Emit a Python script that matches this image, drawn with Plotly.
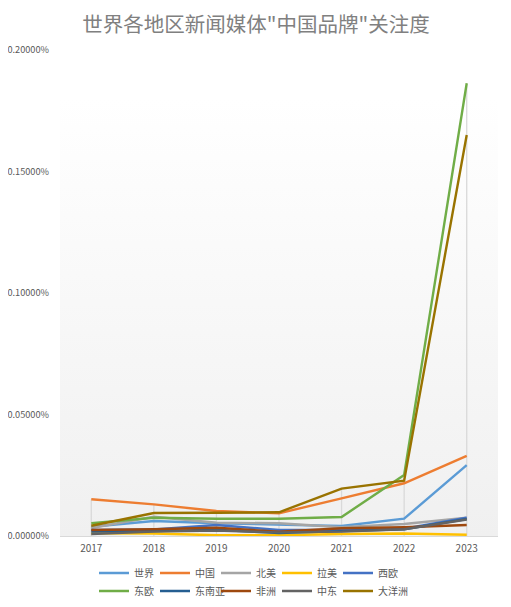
import base64
import plotly.graph_objects as go

years = ["2017", "2018", "2019", "2020", "2021", "2022", "2023"]

world = [0.0000383, 0.0000617, 0.0000523, 0.0000481, 0.0000412, 0.0000712, 0.000292]
china = [0.000151, 0.000130, 0.000103, 0.0000934, 0.000155, 0.000217, 0.000330]
north_america = [0.000033, 0.0000794, 0.0000547, 0.0000523, 0.0000358, 0.0000494, 0.0000753]
latin_america = [0.000011, 0.000010, 0.000003, 0.000003, 0.000008, 0.000010, 0.000005]
west_europe = [0.0000247, 0.000027, 0.000045, 0.0000247, 0.000025, 0.000030, 0.0000753]
east_europe = [0.0000523, 0.0000753, 0.0000712, 0.0000712, 0.0000782, 0.000251, 0.001863]
southeast_asia = [0.000018, 0.000020, 0.000026, 0.000012, 0.000020, 0.000028, 0.000070]
africa = [0.000025, 0.0000276, 0.000034, 0.0000177, 0.0000317, 0.0000358, 0.0000453]
middle_east = [0.000008, 0.000018, 0.000022, 0.000015, 0.000018, 0.000028, 0.000068]
oceania = [0.0000424, 0.0000947, 0.0000959, 0.0000975, 0.000195, 0.000228, 0.00165]

series = [
    ("世界", world, "#5B9BD5"),
    ("中国", china, "#ED7D31"),
    ("北美", north_america, "#A5A5A5"),
    ("拉美", latin_america, "#FFC000"),
    ("西欧", west_europe, "#4472C4"),
    ("东欧", east_europe, "#70AD47"),
    ("东南亚", southeast_asia, "#255E91"),
    ("非洲", africa, "#9E480E"),
    ("中东", middle_east, "#636363"),
    ("大洋洲", oceania, "#997300"),
]

font = "Noto Sans CJK SC"
grey = "#595959"

# the page body has an 8px margin, so the figure is 8px smaller than the window
W, H = 503, 599

fig = go.Figure()

# drop lines (from the highest point of each year down to the axis)
drop_x, drop_y = [], []
for i, yr in enumerate(years):
    top = max(s[1][i] for s in series)
    drop_x += [yr, yr, None]
    drop_y += [0, top, None]
fig.add_trace(go.Scatter(x=drop_x, y=drop_y, mode="lines", showlegend=False,
                         line=dict(color="#D9D9D9", width=1.3), hoverinfo="skip"))

for i, (name, vals, color) in enumerate(series):
    fig.add_trace(go.Scatter(x=years, y=vals, name=name, mode="lines",
                             line=dict(color=color, width=2.4),
                             legend="legend" if i < 5 else "legend2"))

# empty entries so the last legend item isn't clipped
for lg in ["legend", "legend2"]:
    fig.add_trace(go.Scatter(x=[None], y=[None], name=" ", mode="lines",
                             line=dict(color="rgba(0,0,0,0)"), legend=lg,
                             hoverinfo="skip"))

svg = ('<svg xmlns="http://www.w3.org/2000/svg" width="10" height="100" preserveAspectRatio="none">'
       '<defs><linearGradient id="g" x1="0" y1="0" x2="0" y2="1">'
       '<stop offset="0" stop-color="#FFFFFF"/><stop offset="0.1" stop-color="#FFFFFF"/>'
       '<stop offset="1" stop-color="#F0F0F0"/></linearGradient></defs>'
       '<rect width="10" height="100" fill="url(#g)"/></svg>')
bg = "data:image/svg+xml;base64," + base64.b64encode(svg.encode()).decode()

legend_common = dict(orientation="h", xref="container", yref="container",
                     x=86 / W, xanchor="left", yanchor="middle",
                     entrywidth=16, font=dict(size=10, color=grey, family=font),
                     bgcolor="rgba(0,0,0,0)")

fig.update_layout(
    width=W, height=H,
    margin=dict(l=52, r=13, t=42, b=71, autoexpand=False),
    paper_bgcolor="white",
    plot_bgcolor="rgba(0,0,0,0)",
    font=dict(family=font, color=grey),
    title=dict(text='世界各地区新闻媒体"中国品牌"关注度', x=248 / W, xref="container",
               xanchor="center", y=1 - 16.6 / H, yanchor="middle",
               font=dict(size=20.5, color="#808080", family=font)),
    images=[dict(source=bg, xref="x domain", yref="y domain", x=0, y=1,
                 sizex=1, sizey=1, xanchor="left", yanchor="top",
                 sizing="stretch", layer="below")],
    xaxis=dict(type="category", range=[-0.5, 6.5], showgrid=False, automargin=False,
               showline=True, linecolor="#D9D9D9", linewidth=1, ticklabelstandoff=3,
               ticks="", tickfont=dict(size=10, color=grey), zeroline=False),
    yaxis=dict(range=[0, 0.002], dtick=0.0005, tickformat=".5%", automargin=False,
               showgrid=False, zeroline=False, showline=False,
               ticklabelstandoff=10, tickfont=dict(size=9.2, color=grey)),
    legend=dict(y=1 - 565 / H, **legend_common),
    legend2=dict(y=1 - 583 / H, **legend_common),
    showlegend=True,
)

fig.write_html("out.html")
